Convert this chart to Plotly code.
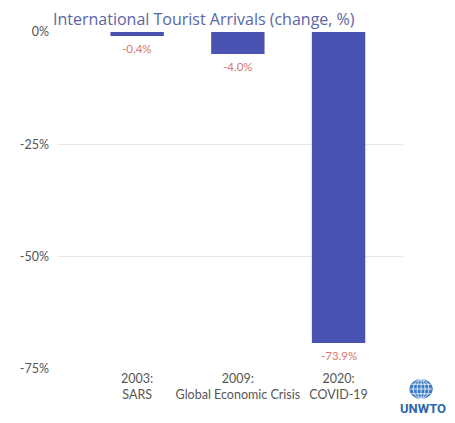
import plotly.graph_objects as go

categories = ["2003:<br>SARS", "2009:<br>Global Economic Crisis", "2020:<br>COVID-19"]
bar_values = [-0.9, -4.9, -69.2]          # bar lengths as drawn in the picture
bar_labels = ["-0.4%", "-4.0%", "-73.9%"]  # labels printed under the bars
y_tickvals = [0, -25, -50, -75]
y_ticktext = ["0%", "-25%", "-50%", "-75%"]

BAR = "#4752B1"
LABEL = "#D9766A"
TICK = "#555555"

# page body has an 8px margin; figure spans 8..455 x 8..423
W, H = 447, 415
L, R, T, B = 42, 52, 24, 54
PW, PH = W - L - R, H - T - B


def px(x):  # page x -> paper x
    return (x - 8 - L) / PW


def py(y):  # page y -> paper y
    return 1 - (y - 8 - T) / PH


fig = go.Figure(go.Bar(
    x=categories, y=bar_values,
    marker=dict(color=BAR, line=dict(width=0)),
    width=0.53, hoverinfo="skip",
))

annotations = [dict(x=c, y=v, text=t, xref="x", yref="y", showarrow=False,
                    yanchor="top", yshift=-4,
                    font=dict(family="Lato", size=11.5, color=LABEL))
               for c, v, t in zip(categories, bar_values, bar_labels)]

# UNWTO logo (globe + wordmark)
shapes = []
cx, cy = px(421.5), py(389)
rx, ry = 11.5 / PW, 9.5 / PH
shapes.append(dict(type="circle", xref="paper", yref="paper",
                   x0=cx - rx, x1=cx + rx, y0=cy - ry, y1=cy + ry,
                   fillcolor="#3C7BC6", line=dict(color="#3C7BC6", width=1), layer="above"))
for k in (0.35, 0.7):
    shapes.append(dict(type="circle", xref="paper", yref="paper",
                       x0=cx - rx * k, x1=cx + rx * k, y0=cy - ry, y1=cy + ry,
                       line=dict(color="white", width=0.8), layer="above"))
for f in (-0.5, 0, 0.5):
    shapes.append(dict(type="line", xref="paper", yref="paper",
                       x0=cx - rx * (1 - f * f) ** 0.5, x1=cx + rx * (1 - f * f) ** 0.5,
                       y0=cy + ry * f, y1=cy + ry * f,
                       line=dict(color="white", width=0.8), layer="above"))
shapes.append(dict(type="line", xref="paper", yref="paper",
                   x0=cx, x1=cx, y0=cy - ry, y1=cy + ry,
                   line=dict(color="white", width=0.8), layer="above"))

annotations.append(dict(text="<b>UNWTO</b>", xref="paper", yref="paper",
                        x=px(398), y=py(408), xanchor="left", yanchor="middle",
                        showarrow=False,
                        font=dict(family="Roboto", size=13, color="#2C64AE")))

fig.update_layout(
    width=W, height=H,
    margin=dict(l=L, r=R, t=T, b=B),
    paper_bgcolor="white", plot_bgcolor="white",
    showlegend=False,
    title=dict(text="International Tourist Arrivals (change, %)",
               font=dict(family="Open Sans", size=16, color="#5A66A8"),
               xref="container", yref="container",
               x=(53 - 8) / W, xanchor="left", y=1 - (19 - 8) / H, yanchor="middle"),
    xaxis=dict(range=[-0.786, 2.64], showgrid=False, zeroline=False, showline=False,
               ticks="", tickfont=dict(family="Lato", size=12.5, color=TICK)),
    yaxis=dict(range=[-75, 0], tickvals=y_tickvals, ticktext=y_ticktext,
               showgrid=True, gridcolor="#E8E8E8", gridwidth=1,
               zeroline=False, showline=False, ticks="", ticklabelstandoff=8,
               tickfont=dict(family="Lato", size=12.5, color=TICK)),
    shapes=shapes,
    annotations=annotations,
)

fig.write_html("out.html")
